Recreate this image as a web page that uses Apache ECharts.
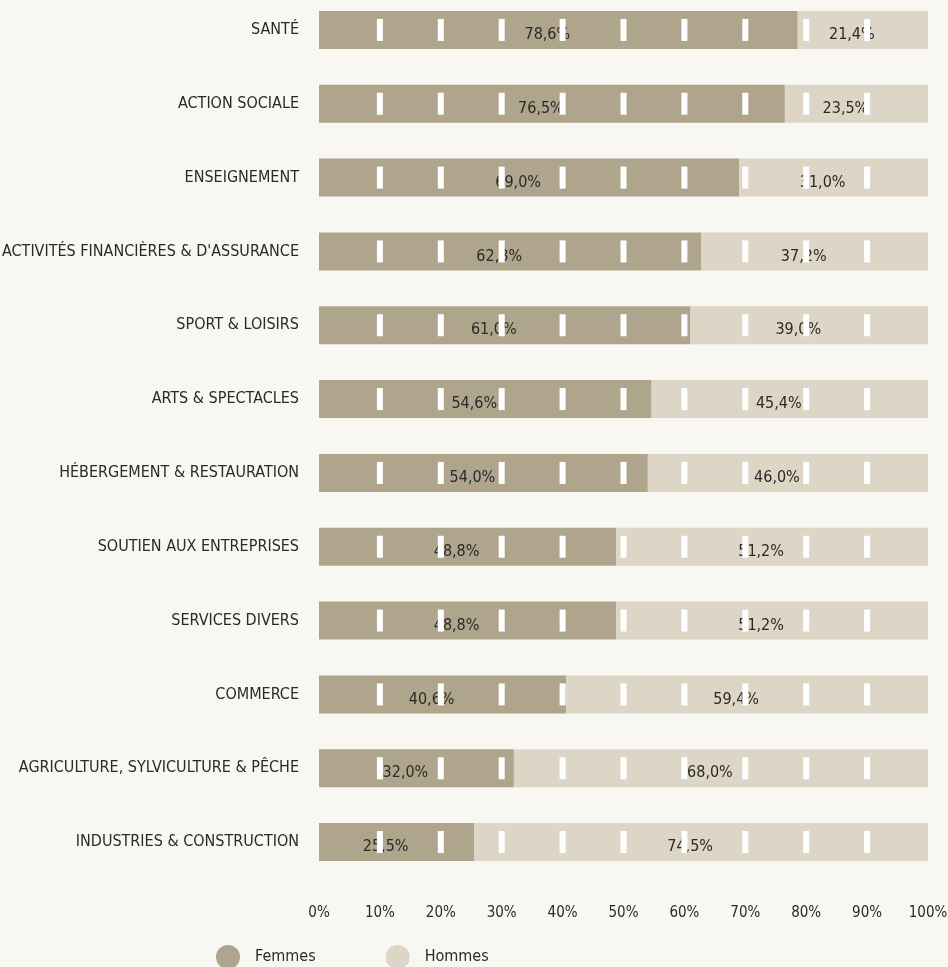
<!DOCTYPE html>
<html>
<head>
<meta charset="utf-8">
<script src="https://cdn.jsdelivr.net/npm/echarts@6/dist/echarts.min.js"></script>
<style>
  html, body { margin: 0; padding: 0; background: #f9f7f2; }
  #chart { width: 948px; height: 967px; }
</style>
</head>
<body>
<div id="chart"></div>
<script>
// secteurs, du haut vers le bas
var secteurs = ['SANTÉ', 'ACTION SOCIALE', 'ENSEIGNEMENT', "ACTIVITÉS FINANCIÈRES & D'ASSURANCE",
  'SPORT & LOISIRS', 'ARTS & SPECTACLES', 'HÉBERGEMENT & RESTAURATION', 'SOUTIEN AUX ENTREPRISES',
  'SERVICES DIVERS', 'COMMERCE', 'AGRICULTURE, SYLVICULTURE & PÊCHE', 'INDUSTRIES & CONSTRUCTION'];
var femmes = [78.6, 76.5, 69.0, 62.8, 61.0, 54.6, 54.0, 48.8, 48.8, 40.6, 32.0, 25.5];
var hommes = [21.4, 23.5, 31.0, 37.2, 39.0, 45.4, 46.0, 51.2, 51.2, 59.4, 68.0, 74.5];
var reperes = [10, 20, 30, 40, 50, 60, 70, 80, 90];

var police = '"Liberation Sans Narrow", "DejaVu Sans Condensed", "Noto Sans", sans-serif';

// petits repères blancs sur chaque barre
var marques = [];
for (var i = 0; i < secteurs.length; i++) {
  for (var j = 0; j < reperes.length; j++) {
    marques.push([reperes[j], secteurs[i]]);
  }
}

function fmt(p) {
  return p.value.toFixed(1).replace('.', ',') + '%';
}

var etiquette = {
  show: true,
  position: 'inside',
  offset: [-11, 5],
  color: '#2a2a2a',
  fontSize: 16,
  fontFamily: police,
  formatter: fmt
};

var myChart = echarts.init(document.getElementById('chart'));
var option = {
  backgroundColor: '#f9f7f2',
  animation: false,
  grid: { left: 319, right: 20, top: -7, height: 886, containLabel: false, outerBoundsMode: 'none' },
  legend: {
    data: ['Femmes', 'Hommes'],
    left: 211,
    top: 940,
    icon: 'circle',
    itemWidth: 24,
    itemHeight: 24,
    itemGap: 70,
    textStyle: { color: '#2a2a2a', fontSize: 16, fontFamily: police, padding: [0, 0, 0, 10] }
  },
  xAxis: {
    type: 'value',
    min: 0,
    max: 100,
    interval: 10,
    axisLine: { show: false },
    axisTick: { show: false },
    splitLine: { show: false },
    axisLabel: { formatter: '{value}%', color: '#2a2a2a', fontSize: 15, fontFamily: police, margin: 27 }
  },
  yAxis: {
    type: 'category',
    data: secteurs,
    inverse: true,
    axisLine: { show: false },
    axisTick: { show: false },
    axisLabel: { color: '#2a2a2a', fontSize: 16, fontFamily: police, margin: 20, padding: [4, 0, 0, 0] }
  },
  series: [
    {
      name: 'Femmes',
      type: 'bar',
      stack: 'total',
      barWidth: 38,
      itemStyle: { color: '#afa58d' },
      label: etiquette,
      data: femmes,
      z: 2
    },
    {
      name: 'Hommes',
      type: 'bar',
      stack: 'total',
      barWidth: 38,
      itemStyle: { color: '#ddd5c6' },
      label: etiquette,
      data: hommes,
      z: 2
    },
    {
      type: 'scatter',
      symbol: 'rect',
      symbolSize: [6, 22],
      itemStyle: { color: '#ffffff', opacity: 1 },
      silent: true,
      data: marques,
      z: 5
    }
  ]
};
myChart.setOption(option);
</script>
</body>
</html>
